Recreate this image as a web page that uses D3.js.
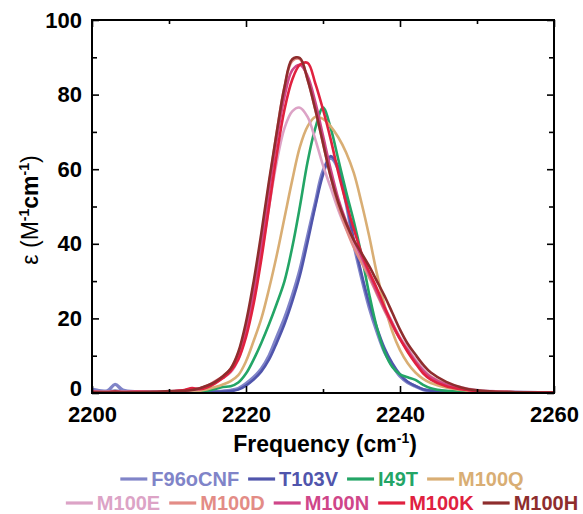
<!DOCTYPE html>
<html>
<head>
<meta charset="utf-8">
<script src="https://cdn.jsdelivr.net/npm/d3@7"></script>
<style>
  html, body { margin: 0; padding: 0; background: #fff; }
  svg { display: block; font-family: "Liberation Sans", Arial, sans-serif; }
</style>
</head>
<body>
<svg id="chart" width="583" height="514"></svg>
<script>
// frequency grid (cm-1) shared by all spectra
const freq = [2200, 2202, 2203, 2204, 2206, 2208, 2210, 2212, 2213, 2214, 2215, 2216, 2217, 2218, 2219,
  2220, 2221, 2222, 2223, 2224, 2225, 2226, 2227, 2228, 2229, 2230, 2231, 2232, 2233, 2234, 2235,
  2236, 2237, 2238, 2239, 2240, 2241, 2242, 2243, 2244, 2246, 2248, 2250, 2252, 2255, 2258, 2260];

const seriesNames = ['F96oCNF', 'T103V', 'I49T', 'M100Q', 'M100E', 'M100D', 'M100N', 'M100K', 'M100H'];
const seriesColors = ['#8084c8', '#5055ac', '#23a566', '#d9ae74', '#dca3c6', '#e38c86', '#cf4689', '#e0213f', '#8e2d2d'];

const f96oCNF = [1.0, 0.6, 2.3, 0.8, 0.3, 0.2, 0.2, 0.1, 0.2, 0.2, 0.3, 0.4, 0.5, 0.7, 1.2, 2.5, 4.2, 6.5, 10, 15,
  20, 26, 33, 42, 51, 59.5, 63, 60, 51, 40, 31, 23, 16.5, 11, 7.5, 4.5, 2.8, 1.8, 0.9, 0.6, 0.4, 0.3, 0.3, 0.2, 0.2, 0.1, 0.1];
const t103V = [0.5, 0.4, 0.6, 0.4, 0.2, 0.1, 0.1, 0.1, 0.1, 0.2, 0.2, 0.3, 0.4, 0.5, 0.9, 2.0, 3.6, 5.8, 9, 13.5,
  18.5, 24.5, 31.5, 40.5, 50, 58.5, 63.5, 60.5, 52, 41, 32, 24, 17.5, 12, 8, 5, 3, 1.9, 1.0, 0.6, 0.3, 0.2, 0.2, 0.1, 0.1, 0.0, 0.0];
const i49T = [0.3, 0.3, 0.5, 0.3, 0.2, 0.2, 0.2, 0.2, 0.3, 0.3, 0.6, 1.1, 1.6, 1.8, 2.8, 5.2, 9, 13.5, 18.5, 24,
  30, 39, 50, 62, 71, 76.5, 71, 62.5, 54, 46, 37, 26.5, 17.5, 11, 7, 5, 4.2, 3.5, 2.2, 1.3, 0.6, 0.5, 0.6, 0.3, 0.2, 0.1, 0.1];
const m100Q = [0.2, 0.2, 0.3, 0.2, 0.2, 0.2, 0.2, 0.3, 0.4, 0.6, 1.0, 1.6, 2.3, 3.2, 4.8, 8.5, 14, 20, 28, 37,
  47, 57, 66, 71.5, 74, 73.5, 71.5, 68.5, 64.5, 59, 51, 42, 32, 23.5, 16.5, 11.5, 8, 5.5, 3.8, 2.7, 1.5, 0.8, 0.4, 0.3, 0.2, 0.1, 0.1];
const m100E = [0.4, 0.3, 0.5, 0.3, 0.3, 0.3, 0.4, 0.6, 0.8, 1.0, 1.8, 2.8, 4, 5.5, 9, 16, 25, 37, 50, 62,
  71, 75.5, 76.5, 74, 68, 61, 55, 49, 44, 40, 35.5, 31.5, 27, 23, 19, 15, 12, 9, 6.5, 4.5, 2.5, 1.5, 0.8, 0.5, 0.3, 0.2, 0.1];
const m100D = [0.3, 0.3, 0.4, 0.3, 0.3, 0.3, 0.4, 0.7, 1.0, 1.3, 2.0, 3.2, 4.5, 6.5, 10.5, 18, 28, 41, 56, 70,
  82, 89, 89.5, 84, 76, 67, 58, 50, 44, 39, 35, 31, 26.5, 22, 18, 14.5, 11.5, 8.5, 6, 4.3, 2.3, 1.2, 0.6, 0.4, 0.2, 0.1, 0.1];
const m100N = [0.3, 0.3, 0.4, 0.3, 0.3, 0.3, 0.4, 0.7, 1.0, 1.2, 1.9, 3.0, 4.3, 6.2, 10, 17, 27, 39.5, 54, 68,
  79.5, 86.5, 88, 85, 78, 69, 60, 52, 46, 41, 36.5, 32, 27, 22.5, 18.5, 14.5, 11.5, 8.5, 6, 4.2, 2.2, 1.1, 0.6, 0.3, 0.2, 0.1, 0.1];
const m100K = [0.3, 0.2, 0.3, 0.2, 0.3, 0.2, 0.3, 0.8, 1.3, 1.0, 1.5, 2.6, 4, 5.8, 9, 15, 24, 36, 50, 64,
  76, 84, 88, 88.5, 83, 76, 68, 59, 51, 44, 37.5, 32.5, 28, 23, 18.5, 14.5, 11, 8, 5.3, 3.6, 1.8, 1.0, 0.5, 0.3, 0.2, 0.1, 0.1];
const m100H = [0.2, 0.2, 0.3, 0.2, 0.2, 0.3, 0.5, 0.6, 0.8, 1.3, 2.0, 3.0, 4.5, 6.5, 11, 19, 30, 43, 57, 70,
  82, 89.5, 89.8, 84, 76, 67, 58, 51, 45.5, 41, 37.5, 34, 30, 26, 21.5, 17, 13.2, 10.3, 7.6, 5.5, 3, 1.5, 0.7, 0.4, 0.2, 0.1, 0.1];

const seriesValues = [f96oCNF, t103V, i49T, m100Q, m100E, m100D, m100N, m100K, m100H];

const xMajor = [2200, 2220, 2240, 2260];
const xMinor = [2210, 2230, 2250];
const yMajor = [0, 20, 40, 60, 80, 100];
const yMinor = [10, 30, 50, 70, 90];

const svg = d3.select('#chart');
const margin = { top: 20, right: 29, bottom: 121, left: 92 };
const width = 583, height = 514;
const innerW = width - margin.left - margin.right;
const innerH = height - margin.top - margin.bottom;

const x = d3.scaleLinear().domain([2200, 2260]).range([0, innerW]);
const y = d3.scaleLinear().domain([0, 100]).range([innerH, 0]);

const g = svg.append('g').attr('transform', 'translate(' + margin.left + ',' + margin.top + ')');

// spectra
const line = d3.line()
  .x(function (d) { return x(d[0]); })
  .y(function (d) { return y(d[1]); })
  .curve(d3.curveCatmullRom.alpha(0.5));

const clip = svg.append('defs').append('clipPath').attr('id', 'plot-clip');
clip.append('rect').attr('x', 0).attr('y', -2).attr('width', innerW).attr('height', innerH + 1);

const linesG = g.append('g').attr('clip-path', 'url(#plot-clip)');
seriesNames.forEach(function (name, i) {
  const pts = freq.map(function (f, k) { return [f, seriesValues[i][k]]; });
  linesG.append('path')
    .datum(pts)
    .attr('fill', 'none')
    .attr('stroke', seriesColors[i])
    .attr('stroke-width', i === 0 ? 3.4 : 2.6)
    .attr('stroke-linejoin', 'round')
    .attr('d', line);
});

// axes (ticks pointing inward, box frame)
function styleAxis(sel) {
  sel.select('.domain').remove();
  sel.selectAll('line').attr('stroke', '#000').attr('stroke-width', 1.6);
  sel.selectAll('text')
    .attr('fill', '#000')
    .style('font-size', '22px')
    .style('font-weight', 'bold');
}

g.append('g').attr('transform', 'translate(0,' + innerH + ')')
  .call(d3.axisBottom(x).tickValues(xMajor).tickSize(-7).tickPadding(12).tickFormat(d3.format('d')))
  .call(styleAxis)
  .selectAll('text').attr('dy', '0.75em');
g.append('g').attr('transform', 'translate(0,' + innerH + ')')
  .call(d3.axisBottom(x).tickValues(xMinor).tickSize(-4).tickFormat(''))
  .call(styleAxis);
g.append('g')
  .call(d3.axisTop(x).tickValues(xMajor).tickSize(-7).tickFormat(''))
  .call(styleAxis);
g.append('g')
  .call(d3.axisTop(x).tickValues(xMinor).tickSize(-4).tickFormat(''))
  .call(styleAxis);

const yAxisG = g.append('g')
  .call(d3.axisLeft(y).tickValues(yMajor).tickSize(-7).tickPadding(10))
  .call(styleAxis);
yAxisG.selectAll('.tick').filter(function (d) { return d === 0; })
  .select('text').attr('y', -5);
g.append('g')
  .call(d3.axisLeft(y).tickValues(yMinor).tickSize(-5).tickFormat(''))
  .call(styleAxis);
g.append('g').attr('transform', 'translate(' + innerW + ',0)')
  .call(d3.axisRight(y).tickValues(yMajor).tickSize(-7).tickFormat(''))
  .call(styleAxis);
g.append('g').attr('transform', 'translate(' + innerW + ',0)')
  .call(d3.axisRight(y).tickValues(yMinor).tickSize(-5).tickFormat(''))
  .call(styleAxis);

g.append('rect')
  .attr('x', 0).attr('y', 0).attr('width', innerW).attr('height', innerH)
  .attr('fill', 'none').attr('stroke', '#000').attr('stroke-width', 2);

// axis titles
const xTitle = svg.append('text')
  .attr('x', 325)
  .attr('y', 452)
  .attr('text-anchor', 'middle')
  .style('font-size', '23px')
  .style('font-weight', 'bold');
xTitle.append('tspan').text('Frequency (cm');
xTitle.append('tspan').attr('dy', -9).style('font-size', '14px').text('-1');
xTitle.append('tspan').attr('dy', 9).text(')');

const yTitle = svg.append('text')
  .attr('transform', 'translate(38,210) rotate(-90)')
  .attr('text-anchor', 'middle')
  .style('font-size', '23px')
  .style('font-weight', 'bold');
yTitle.append('tspan').style('font-weight', 'normal').text('\u03b5 (M');
yTitle.append('tspan').attr('dy', -9).style('font-size', '14px').text('-1');
yTitle.append('tspan').attr('dy', 9).text('cm');
yTitle.append('tspan').attr('dy', -9).style('font-size', '14px').text('-1');
yTitle.append('tspan').attr('dy', 9).style('font-weight', 'normal').text(')');

// legend, two centred rows
const legendRows = [[0, 1, 2, 3], [4, 5, 6, 7, 8]];
const legendY = [479, 503];
const lineLen = 27, gapLine = 4, gapItem = 9;
const legendCenter = 322;

legendRows.forEach(function (row, r) {
  const rowG = svg.append('g');
  let cursor = 0;
  row.forEach(function (idx) {
    rowG.append('line')
      .attr('x1', cursor).attr('x2', cursor + lineLen)
      .attr('y1', legendY[r]).attr('y2', legendY[r])
      .attr('stroke', seriesColors[idx]).attr('stroke-width', 3.2);
    cursor += lineLen + gapLine;
    const t = rowG.append('text')
      .attr('x', cursor).attr('y', legendY[r])
      .attr('dy', '0.36em')
      .attr('fill', seriesColors[idx])
      .style('font-size', '20px')
      .style('font-weight', 'bold')
      .text(seriesNames[idx]);
    cursor += t.node().getComputedTextLength() + gapItem;
  });
  const rowW = cursor - gapItem;
  rowG.attr('transform', 'translate(' + (legendCenter - rowW / 2) + ',0)');
});
</script>
</body>
</html>
